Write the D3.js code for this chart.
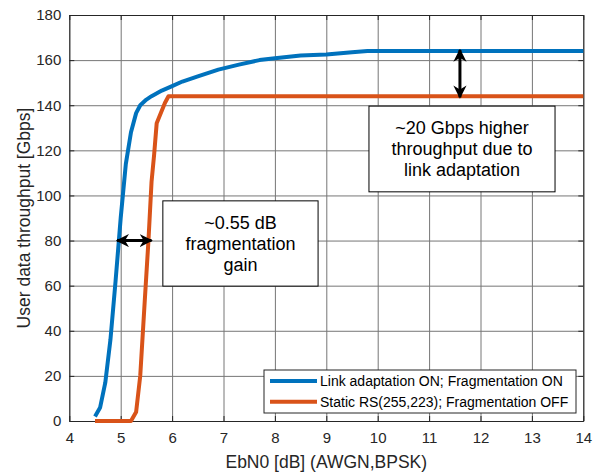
<!DOCTYPE html>
<html>
<head>
<meta charset="utf-8">
<script src="https://cdn.jsdelivr.net/npm/d3@7"></script>
<style>
  body { margin: 0; background: #fff; }
  svg { display: block; font-family: "Liberation Sans", Arial, Helvetica, sans-serif; }
  .grid line { stroke: #767676; stroke-width: 1; }
  .grid path { display: none; }
  .axis path { stroke: #262626; }
  .axis line { stroke: #262626; }
  .axis text { fill: #262626; font-size: 15px; }
</style>
</head>
<body>
<svg id="chart"></svg>
<script>
// Link adaptation ON; Fragmentation ON
const laX = [4.5, 4.6, 4.7, 4.8, 4.9, 5.0, 5.1, 5.2, 5.3, 5.38, 5.5, 5.6, 5.8, 6.0, 6.2, 6.5, 6.9, 7.3, 7.7, 8.0, 8.5, 9.0, 9.5, 9.8, 10.5, 14];
const laY = [2, 6, 17, 36, 62, 90, 114, 128, 136.5, 140, 142.5, 144, 146.5, 148.5, 150.5, 152.8, 155.8, 158, 160, 160.8, 162, 162.5, 163.5, 164, 164, 164];
// Static RS(255,223); Fragmentation OFF
const stX = [4.5, 5.0, 5.2, 5.3, 5.38, 5.47, 5.54, 5.6, 5.65, 5.7, 5.86, 5.93, 6.0, 14];
const stY = [0, 0, 0, 4, 20, 54, 80, 106, 118, 132, 141, 144, 144, 144];

const xTicks = [4, 5, 6, 7, 8, 9, 10, 11, 12, 13, 14];
const yTicks = [0, 20, 40, 60, 80, 100, 120, 140, 160, 180];
const seriesNames = ["Link adaptation ON; Fragmentation ON", "Static RS(255,223); Fragmentation OFF"];
const seriesColors = ["#0072BD", "#D95319"];

const xLabel = "EbN0 [dB] (AWGN,BPSK)";
const yLabel = "User data throughput [Gbps]";

// annotations, in data units
const gainArrow = { x0: 4.93, x1: 5.6, y: 80 };
const gainBox = { x0: 5.82, x1: 8.84, y0: 97.6, y1: 59.8, lines: ["~0.55 dB", "fragmentation", "gain"] };
const tputArrow = { x: 11.6, y0: 164.5, y1: 143.5 };
const tputBox = { x0: 9.83, x1: 13.45, y0: 139.6, y1: 101.6, lines: ["~20 Gbps higher", "throughput due to", "link adaptation"] };

const W = 601, H = 474;
const margin = { top: 15, right: 17.7, bottom: 53, left: 69.3 };
const width = W - margin.left - margin.right;
const height = H - margin.top - margin.bottom;

const svg = d3.select("#chart").attr("width", W).attr("height", H);
const g = svg.append("g").attr("transform", `translate(${margin.left},${margin.top})`);

const x = d3.scaleLinear().domain([4, 14]).range([0, width]);
const y = d3.scaleLinear().domain([0, 180]).range([height, 0]);

// grid
g.append("g").attr("class", "grid")
  .attr("transform", `translate(0,${height})`)
  .call(d3.axisBottom(x).tickValues(xTicks).tickSize(-height).tickFormat(""));
g.append("g").attr("class", "grid")
  .call(d3.axisLeft(y).tickValues(yTicks).tickSize(-width).tickFormat(""));

// axes, ticks pointing inward (box on)
g.append("g").attr("class", "axis")
  .attr("transform", `translate(0,${height})`)
  .call(d3.axisBottom(x).tickValues(xTicks).tickSizeInner(-5).tickSizeOuter(0).tickPadding(11))
  .selectAll("text").attr("dy", "0.71em");
g.append("g").attr("class", "axis")
  .call(d3.axisLeft(y).tickValues(yTicks).tickSizeInner(-5).tickSizeOuter(0).tickPadding(8));
g.append("g").attr("class", "axis")
  .call(d3.axisTop(x).tickValues(xTicks).tickSizeInner(-5).tickSizeOuter(0).tickFormat(""));
g.append("g").attr("class", "axis")
  .attr("transform", `translate(${width},0)`)
  .call(d3.axisRight(y).tickValues(yTicks).tickSizeInner(-5).tickSizeOuter(0).tickFormat(""));

// lines
const line = d3.line().x(d => x(d[0])).y(d => y(d[1]));
const series = [d3.zip(laX, laY), d3.zip(stX, stY)];
g.selectAll(".series")
  .data(series)
  .join("path")
  .attr("class", "series")
  .attr("fill", "none")
  .attr("stroke", (d, i) => seriesColors[i])
  .attr("stroke-width", 4)
  .attr("stroke-linejoin", "round")
  .attr("d", line);

// arrowheads
const defs = svg.append("defs");
defs.append("marker")
  .attr("id", "head")
  .attr("viewBox", "0 0 10 10")
  .attr("refX", 9).attr("refY", 5)
  .attr("markerWidth", 4.4).attr("markerHeight", 4.4)
  .attr("markerUnits", "strokeWidth")
  .attr("orient", "auto-start-reverse")
  .append("path")
  .attr("d", "M0,0 L10,5 L0,10 L3,5 Z")
  .attr("fill", "#000");

g.append("line")
  .attr("x1", x(gainArrow.x0)).attr("x2", x(gainArrow.x1))
  .attr("y1", y(gainArrow.y)).attr("y2", y(gainArrow.y))
  .attr("stroke", "#000").attr("stroke-width", 3)
  .attr("marker-start", "url(#head)").attr("marker-end", "url(#head)");

g.append("line")
  .attr("x1", x(tputArrow.x)).attr("x2", x(tputArrow.x))
  .attr("y1", y(tputArrow.y0)).attr("y2", y(tputArrow.y1))
  .attr("stroke", "#000").attr("stroke-width", 3)
  .attr("marker-start", "url(#head)").attr("marker-end", "url(#head)");

// text boxes
function textBox(b) {
  const bx = x(b.x0), by = y(b.y0), bw = x(b.x1) - x(b.x0), bh = y(b.y1) - y(b.y0);
  g.append("rect")
    .attr("x", bx).attr("y", by).attr("width", bw).attr("height", bh)
    .attr("fill", "#fff").attr("stroke", "#000").attr("stroke-width", 1);
  const lh = 21;
  const cy = by + bh / 2;
  g.append("text")
    .attr("text-anchor", "middle")
    .attr("font-size", 18)
    .attr("fill", "#000")
    .selectAll("tspan")
    .data(b.lines)
    .join("tspan")
    .attr("x", bx + bw / 2)
    .attr("y", (d, i) => cy + (i - (b.lines.length - 1) / 2) * lh)
    .attr("dy", "0.35em")
    .text(d => d);
}
textBox(gainBox);
textBox(tputBox);

// legend
const leg = g.append("g").attr("transform", `translate(${264 - margin.left},${370 - margin.top})`);
leg.append("rect")
  .attr("width", 312).attr("height", 43)
  .attr("fill", "#fff").attr("stroke", "#262626").attr("stroke-width", 1);
seriesNames.forEach((name, i) => {
  const ly = 11 + i * 20.7;
  leg.append("line")
    .attr("x1", 6).attr("x2", 53).attr("y1", ly).attr("y2", ly)
    .attr("stroke", seriesColors[i]).attr("stroke-width", 4);
  leg.append("text")
    .attr("x", 56).attr("y", ly).attr("dy", "0.35em")
    .attr("font-size", 14).attr("fill", "#000")
    .text(name);
});

// axis labels
svg.append("text")
  .attr("x", margin.left + width / 2).attr("y", 462).attr("dy", "0.35em")
  .attr("text-anchor", "middle").attr("font-size", 17.5).attr("fill", "#262626")
  .text(xLabel);
svg.append("text")
  .attr("transform", `translate(24,${margin.top + height / 2}) rotate(-90)`)
  .attr("dy", "0.35em")
  .attr("text-anchor", "middle").attr("font-size", 17.5).attr("fill", "#262626")
  .text(yLabel);
</script>
</body>
</html>
